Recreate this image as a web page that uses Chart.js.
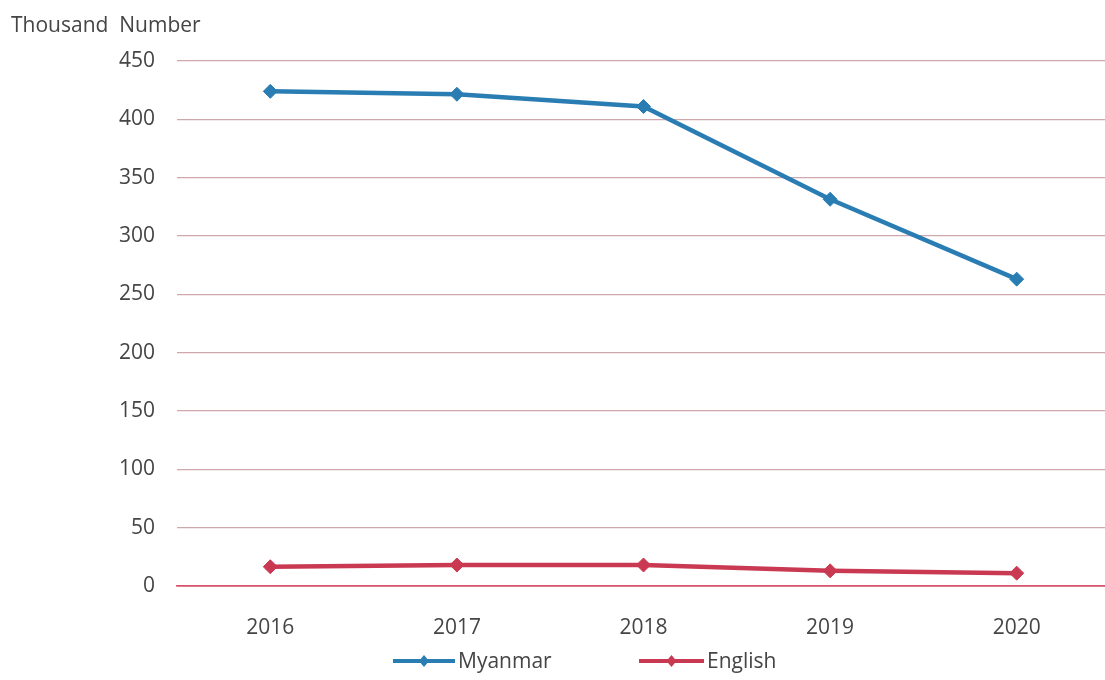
<!DOCTYPE html>
<html>
<head>
<meta charset="utf-8">
<script src="https://cdn.jsdelivr.net/npm/chart.js@4/dist/chart.umd.min.js"></script>
<style>
  html, body { margin: 0; padding: 0; background: #fff; overflow: hidden; }
  #wrap { width: 1118px; height: 680px; }
</style>
</head>
<body>
<div id="wrap"><canvas id="myChart" width="1118" height="680"></canvas></div>
<script>
// chart data
const years = ['2016', '2017', '2018', '2019', '2020'];
const myanmar = [424, 421.5, 411, 331.5, 263];
const english = [16.5, 18, 18, 13, 11];
const yTicks = [0, 50, 100, 150, 200, 250, 300, 350, 400, 450];
const seriesNames = ['Myanmar', 'English'];
const seriesColors = ['#2a7db3', '#c93a52'];

const textColor = '#454545';
const fontFamily = "'Open Sans', 'DejaVu Sans', sans-serif";

//title and legend drawn on the canvas
const extrasPlugin = {
    id: 'extras',
    afterDraw(chart) {
        const ctx = chart.ctx;
        ctx.save();
        ctx.fillStyle = textColor;
        ctx.font = '21px ' + fontFamily;
        ctx.textBaseline = 'middle';
        ctx.textAlign = 'left';
        ctx.fillText('Thousand  Number', 11, 26);

        const items = [
            { x0: 393, x1: 455, label: seriesNames[0], color: seriesColors[0] },
            { x0: 639, x1: 704, label: seriesNames[1], color: seriesColors[1] },
        ];
        const y = 661;
        items.forEach(it => {
            ctx.strokeStyle = it.color;
            ctx.lineWidth = 4;
            ctx.beginPath();
            ctx.moveTo(it.x0, y);
            ctx.lineTo(it.x1, y);
            ctx.stroke();
            const cx = (it.x0 + it.x1) / 2;
            ctx.fillStyle = it.color;
            ctx.beginPath();
            ctx.moveTo(cx, y - 6);
            ctx.lineTo(cx + 5, y);
            ctx.lineTo(cx, y + 6);
            ctx.lineTo(cx - 5, y);
            ctx.closePath();
            ctx.fill();
            ctx.fillStyle = textColor;
            ctx.font = '21px ' + fontFamily;
            ctx.fillText(it.label, it.x1 + 3, y + 1);
        });
        ctx.restore();
    }
};

function makeDataset(label, data, color) {
    return {
        label: label,
        data: data,
        borderColor: color,
        backgroundColor: color,
        borderWidth: 4.5,
        pointStyle: 'rectRot',
        pointRadius: 7,
        pointBorderWidth: 1,
        tension: 0,
    };
}

new Chart(document.getElementById('myChart'), {
    type: 'line',
    data: {
        labels: years,
        datasets: [
            makeDataset(seriesNames[0], myanmar, seriesColors[0]),
            makeDataset(seriesNames[1], english, seriesColors[1]),
        ]
    },
    options: {
        responsive: false,
        animation: false,
        layout: { padding: { top: 61, right: 0, bottom: 0, left: 0 } },
        plugins: {
            legend: { display: false },
            title: { display: false },
            tooltip: { enabled: false },
        },
        scales: {
            x: {
                offset: true,
                grid: { display: false, drawTicks: false },
                border: { display: true, color: '#d9506c', width: 1.5 },
                ticks: {
                    color: textColor,
                    font: { family: fontFamily, size: 21 },
                    padding: 29,
                },
                afterFit(scale) { scale.height = 94; },
            },
            y: {
                min: 0,
                max: 450,
                afterBuildTicks(scale) { scale.ticks = yTicks.map(v => ({ value: v })); },
                grid: {
                    drawTicks: false,
                    color: ctx => ctx.tick && ctx.tick.value === 0 ? '#d9506c' : '#cfa8ae',
                    lineWidth: ctx => ctx.tick && ctx.tick.value === 0 ? 1.5 : 1.2,
                },
                border: { display: false },
                ticks: {
                    color: textColor,
                    font: { family: fontFamily, size: 21 },
                    padding: 22,
                },
                afterFit(scale) { scale.width = 177; },
            }
        }
    },
    plugins: [extrasPlugin]
});
</script>
</body>
</html>
